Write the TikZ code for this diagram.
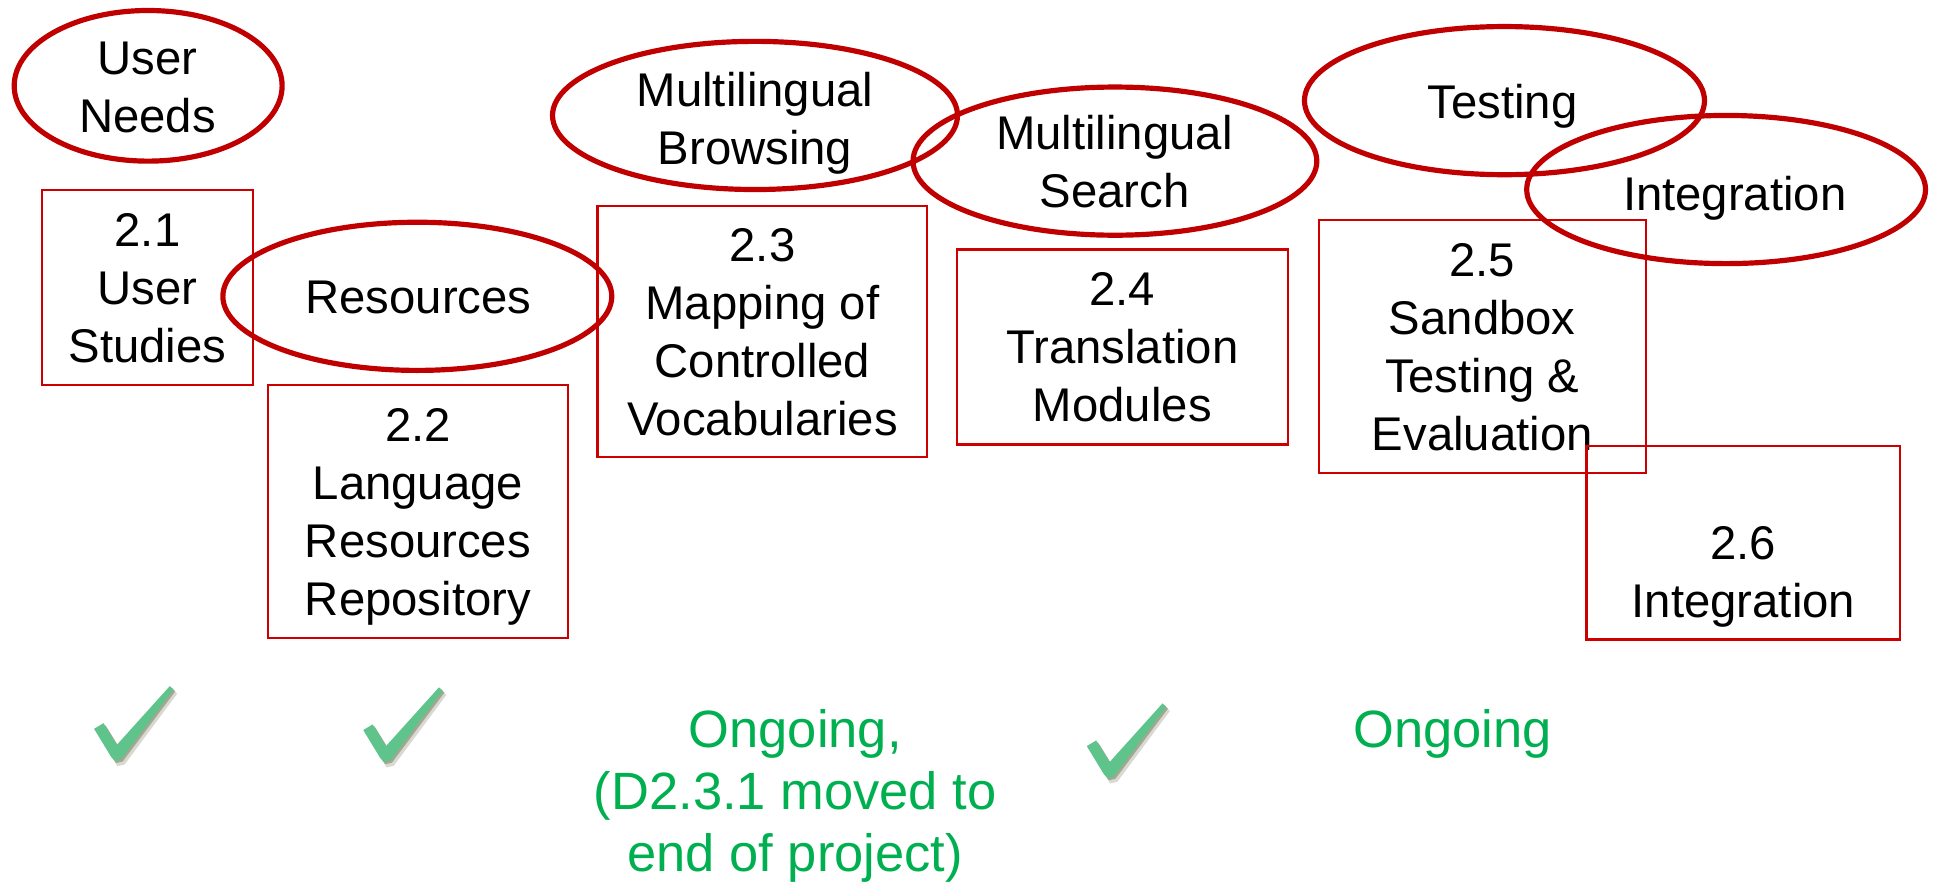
\documentclass[tikz,border=0pt]{standalone}
\usepackage{fontspec}
\setmainfont{Liberation Sans}
\usetikzlibrary{shapes.geometric}
\definecolor{ovalred}{RGB}{192,0,0}
\definecolor{boxred}{RGB}{204,0,0}
\definecolor{okgreen}{RGB}{0,176,80}
\definecolor{tickgreen}{RGB}{95,196,140}
\definecolor{tickshade}{RGB}{100,105,70}
\newcommand\bstrut{\rule[-9.55pt]{0pt}{46.5pt}}
\newcommand\gstrut{\rule[-9.8pt]{0pt}{50pt}}
\tikzset{
  oval/.style={ellipse, draw=ovalred, line width=4.2pt, inner sep=0pt},
  wpbox/.style={rectangle, draw=boxred, line width=1.8pt, inner sep=0pt, align=center,
    font=\fontsize{38.3}{47}\selectfont},
  txt/.style={inner sep=0pt, align=center, font=\fontsize{38.3}{47}\selectfont},
  status/.style={inner sep=0pt, align=center, text=okgreen, font=\fontsize{42.5}{50}\selectfont},
  checkmark/.pic={
    \fill[tickshade, opacity=0.25] (-15.3,-18.7) -- (-7.7,-23.3) -- (3.1,-5.7) -- (46,-53.3) -- (49.5,-50.2) -- (6.9,7.2) -- (1,8.5) -- (-1.3,4.3) -- cycle;
    \fill[tickshade, opacity=0.45] (-16.3,-20.2) -- (-8.7,-24.8) -- (2.1,-7.2) -- (45,-54.8) -- (48,-52.2) -- (5.4,4.7) -- (0,6) -- (-2.3,2.8) -- cycle;
    \fill[tickgreen] (-17.8,-21.7) -- (-10.2,-26.3) -- (0.6,-8.7) -- (43.5,-56.3) -- (46.5,-53.7) -- (3.9,3.2) -- (-1,4) -- (-3.8,1.3) -- cycle;
  }
}
\begin{document}
\begin{tikzpicture}[x=1pt,y=-1pt]
\useasboundingbox[fill=white] (0,0) rectangle (1568,717);

% work package boxes
\node[wpbox, minimum width=171pt, minimum height=158pt] (b21) at (119.5,233) {\bstrut 2.1\\User\\Studies\bstrut};
\node[wpbox, minimum width=243pt, minimum height=205pt] (b22) at (338.5,414.5) {\bstrut 2.2\\Language\\Resources\\Repository\bstrut};
\node[wpbox, minimum width=267pt, minimum height=203pt] (b23) at (617.5,268.5) {\bstrut 2.3\\Mapping of\\Controlled\\Vocabularies\bstrut};
\node[wpbox, minimum width=268pt, minimum height=158pt] (b24) at (909,281) {\bstrut 2.4\\Translation\\Modules\bstrut};
\node[wpbox, minimum width=265pt, minimum height=205pt] (b25) at (1200.5,280.5) {\bstrut 2.5\\Sandbox\\Testing \&\\Evaluation\bstrut};
\node[wpbox, minimum width=254pt, minimum height=157pt] (b26) at (1412,439.5) {\bstrut\\2.6\\Integration\bstrut};

% ovals
\node[oval, minimum width=217pt, minimum height=122pt] (eUser) at (120,69.5) {};
\node[oval, minimum width=315pt, minimum height=120pt] (eRes) at (338,240) {};
\node[oval, minimum width=328pt, minimum height=120pt] (eBrowse) at (611.5,93.5) {};
\node[oval, minimum width=327pt, minimum height=120pt] (eSearch) at (903,130.5) {};
\node[oval, minimum width=324pt, minimum height=120pt] (eTest) at (1218.5,81.5) {};
\node[oval, minimum width=323pt, minimum height=120pt] (eInteg) at (1398,153.5) {};

\node[txt] (tUser) at (119.5,70) {\bstrut User\\Needs\bstrut};
\node[txt] (tRes) at (339,240) {\bstrut Resources};
\node[txt] (tBrowse) at (611.5,96) {\bstrut Multilingual\\Browsing\bstrut};
\node[txt] (tSearch) at (902.6,131) {\bstrut Multilingual\\Search\bstrut};
\node[txt] (tTest) at (1217,82) {\bstrut Testing};
\node[txt] (tInteg) at (1405,157) {\bstrut Integration};

% status
\pic at (94,612) {checkmark};
\pic at (312,613) {checkmark};
\pic at (898,626) {checkmark};
\node[status] (s23) at (644,640.4) {\gstrut Ongoing,\\(D2.3.1 moved to\\end of project)\gstrut};
\node[status] (s25) at (1176.5,590) {\gstrut Ongoing};
\end{tikzpicture}
\end{document}
